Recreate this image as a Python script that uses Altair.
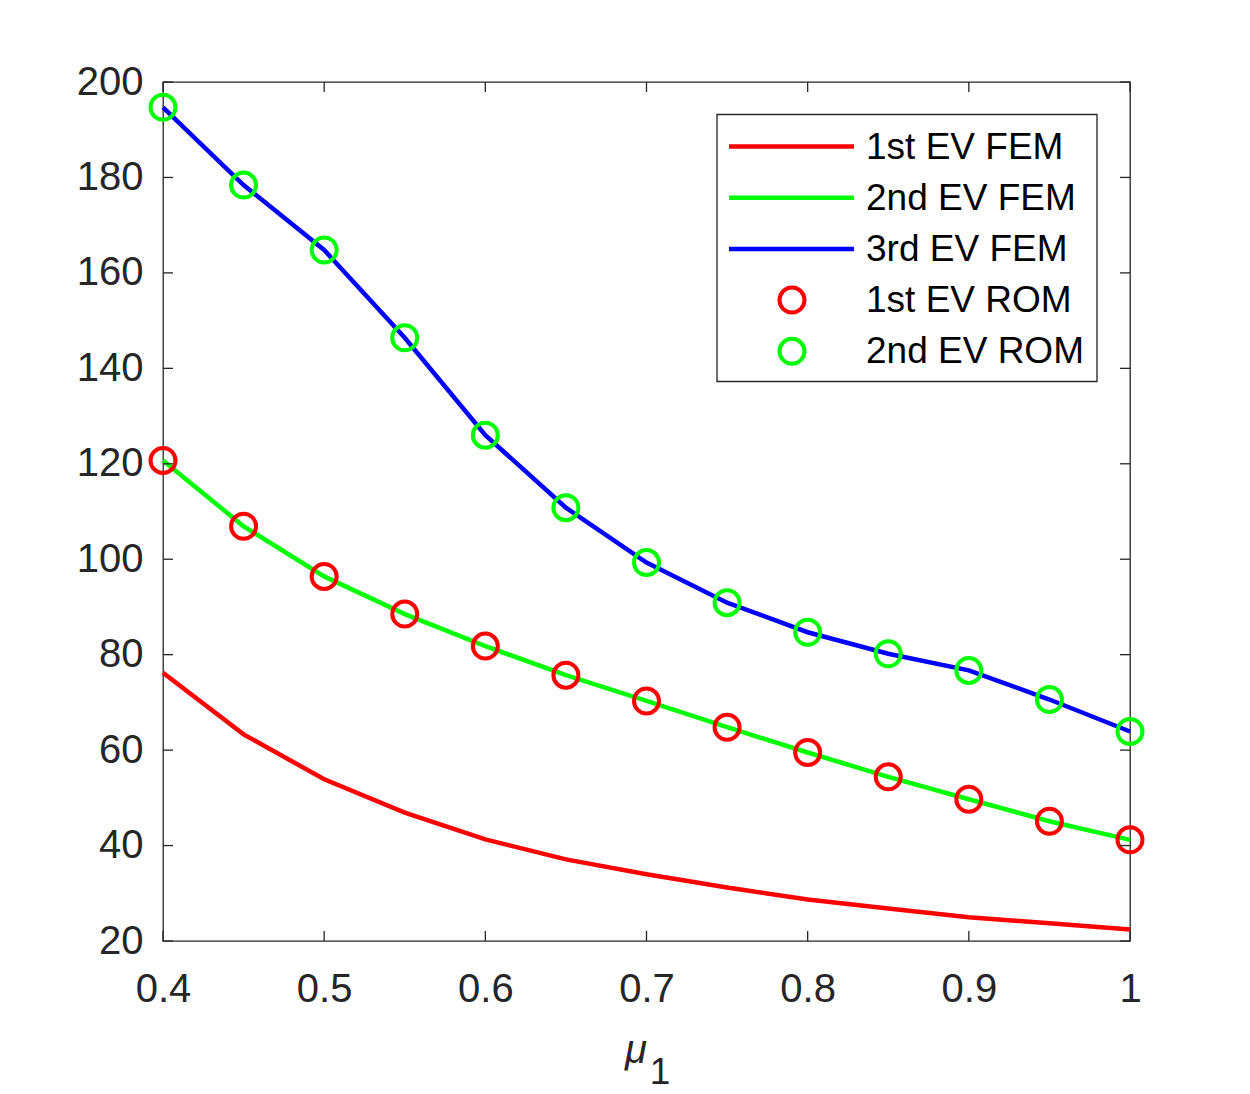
import altair as alt
import pandas as pd

# ---------------- data ----------------
mu = [0.4, 0.45, 0.5, 0.55, 0.6, 0.65, 0.7, 0.75, 0.8, 0.85, 0.9, 0.95, 1.0]
ev1_fem = [76.2, 63.3, 53.9, 46.9, 41.3, 37.1, 34.0, 31.2, 28.7, 26.8, 25.0, 23.7, 22.4]
ev2_fem = [120.7, 106.9, 96.4, 88.5, 81.8, 75.7, 70.3, 64.8, 59.5, 54.4, 49.7, 45.1, 41.2]
ev3_fem = [194.7, 178.4, 164.8, 146.4, 126.0, 110.8, 99.3, 90.9, 84.7, 80.2, 76.7, 70.6, 63.9]
ev1_rom = [120.7, 106.9, 96.4, 88.5, 81.8, 75.7, 70.3, 64.8, 59.5, 54.4, 49.7, 45.1, 41.2]
ev2_rom = [194.7, 178.4, 164.8, 146.4, 126.0, 110.8, 99.3, 90.9, 84.7, 80.2, 76.7, 70.6, 63.9]

x_ticks = [0.4, 0.5, 0.6, 0.7, 0.8, 0.9, 1.0]
y_ticks = [20, 40, 60, 80, 100, 120, 140, 160, 180, 200]

line_names = ["1st EV FEM", "2nd EV FEM", "3rd EV FEM"]
point_names = ["1st EV ROM", "2nd EV ROM"]
legend_labels = line_names + point_names
series_colors = ["#ff0000", "#00ff00", "#0000ff", "#ff0000", "#00ff00"]

# ---------------- tables ----------------
lines_df = pd.DataFrame({
    "mu": mu * 3,
    "ev": ev1_fem + ev2_fem + ev3_fem,
    "series": [line_names[0]] * len(mu) + [line_names[1]] * len(mu) + [line_names[2]] * len(mu),
})
points_df = pd.DataFrame({
    "mu": mu * 2,
    "ev": ev1_rom + ev2_rom,
    "series": [point_names[0]] * len(mu) + [point_names[1]] * len(mu),
})
xt_df = pd.DataFrame({"mu": x_ticks})
yt_df = pd.DataFrame({"ev": y_ticks})
one = pd.DataFrame({"k": [0]})

W, H = 967, 859
AX = "#262626"
FONT = "Liberation Sans"
TICK = 10
MSIZE = 625

xscale = alt.Scale(domain=[0.4, 1.0], nice=False, zero=False)
yscale = alt.Scale(domain=[20, 200], nice=False, zero=False)
cscale = alt.Scale(domain=legend_labels, range=series_colors)

xaxis = alt.Axis(values=x_ticks, format=".1~f", ticks=False, tickSize=0, domain=False, grid=False,
                 labelFontSize=40, labelFont=FONT, labelColor=AX, labelPadding=28,
                 labelFlush=False, labelOverlap=False, title=None)
yaxis = alt.Axis(values=y_ticks, format="d", ticks=False, tickSize=0, domain=False, grid=False,
                 labelFontSize=40, labelFont=FONT, labelColor=AX, labelPadding=20,
                 labelFlush=False, labelOverlap=False, title=None)

X = alt.X("mu:Q", scale=xscale, axis=xaxis)
Y = alt.Y("ev:Q", scale=yscale, axis=yaxis)

lines = alt.Chart(lines_df).mark_line(strokeWidth=4.5).encode(
    x=X, y=Y,
    color=alt.Color("series:N", scale=cscale, legend=None),
    detail="series:N",
)
points = alt.Chart(points_df).mark_point(shape="circle", filled=False, size=MSIZE,
                                          strokeWidth=4, opacity=1).encode(
    x=X, y=Y,
    color=alt.Color("series:N", scale=cscale, legend=None),
)

# inward ticks on all four sides (MATLAB box style)
tick_style = dict(color=AX, strokeWidth=1.3)
bt = alt.Chart(xt_df).mark_rule(**tick_style).encode(
    x=X, y=alt.value(H), y2=alt.value(H - TICK))
tt = alt.Chart(xt_df).mark_rule(**tick_style).encode(
    x=X, y=alt.value(0), y2=alt.value(TICK))
lt = alt.Chart(yt_df).mark_rule(**tick_style).encode(
    y=Y, x=alt.value(0), x2=alt.value(TICK))
rt = alt.Chart(yt_df).mark_rule(**tick_style).encode(
    y=Y, x=alt.value(W - TICK), x2=alt.value(W))

# x-axis title: italic mu with subscript 1
mu_t = alt.Chart(one).mark_text(font=FONT, fontSize=40, fontStyle="italic", color=AX,
                                 align="center", baseline="alphabetic").encode(
    x=alt.value(473), y=alt.value(981), text=alt.value("μ"))
sub_t = alt.Chart(one).mark_text(font=FONT, fontSize=37, color=AX,
                                  align="center", baseline="alphabetic").encode(
    x=alt.value(497), y=alt.value(1002), text=alt.value("1"))

# legend box
LX0, LX1, LY0, LY1 = 554, 934, 32.5, 299.5
leg_layers = [
    alt.Chart(one).mark_rect(fill="white", stroke=AX, strokeWidth=1.3).encode(
        x=alt.value(LX0), x2=alt.value(LX1), y=alt.value(LY0), y2=alt.value(LY1))
]
for i, (lab, col) in enumerate(zip(legend_labels, series_colors)):
    yy = 64.5 + 51.2 * i
    if i < 3:
        leg_layers.append(alt.Chart(one).mark_rule(color=col, strokeWidth=4.5).encode(
            x=alt.value(566), x2=alt.value(691), y=alt.value(yy)))
    else:
        leg_layers.append(alt.Chart(one).mark_point(shape="circle", filled=False, size=MSIZE,
                                                    strokeWidth=4, opacity=1, color=col).encode(
            x=alt.value(629), y=alt.value(yy)))
    leg_layers.append(alt.Chart(one).mark_text(font=FONT, fontSize=37, color="black",
                                               align="left", baseline="middle").encode(
        x=alt.value(703), y=alt.value(yy + 1), text=alt.value(lab)))

chart = alt.layer(lines, points, bt, tt, lt, rt, mu_t, sub_t, *leg_layers).properties(
    width=W, height=H,
    autosize=alt.AutoSizeParams(type="none"),
    padding={"left": 155, "top": 74, "right": 60, "bottom": 153},
    background="white",
).configure_view(stroke=AX, strokeWidth=1.3)

chart.save("out.html", embed_options={"renderer": "svg", "actions": False})
